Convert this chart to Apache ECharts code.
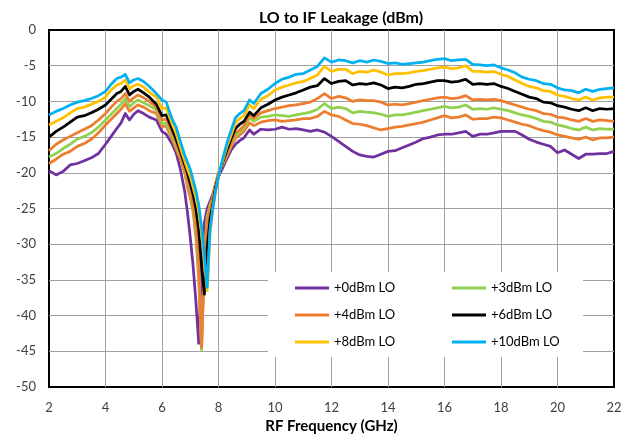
<!DOCTYPE html>
<html><head><meta charset="utf-8">
<script src="https://cdn.jsdelivr.net/npm/echarts@6/dist/echarts.min.js"></script>
<style>html,body{margin:0;padding:0;background:#fff}#c{width:633px;height:440px}</style>
</head><body><div id="c"></div>
<script>
// RF frequency (GHz)
const freq = [2,2.25,2.5,2.75,3,3.25,3.5,3.75,4,
  4.2,4.4,4.55,4.7,4.85,5,5.15,5.35,5.55,5.8,6,6.15,6.35,6.5,6.65,
  6.8,6.9,7,7.1,7.2,7.3,7.4,7.5,7.6,7.7,7.8,7.9,8,
  8.15,8.3,8.45,8.6,8.75,8.9,9.1,9.25,9.5,9.75,10,
  10.25,10.5,10.75,11,11.25,11.5,11.75,12,12.25,12.5,12.75,13,13.25,13.5,13.75,14,
  14.25,14.5,14.75,15,15.25,15.5,15.75,16,16.25,16.5,16.75,17,17.25,17.5,17.75,18,
  18.25,18.5,18.75,19,19.25,19.5,19.75,20,20.25,20.5,20.75,21,21.25,21.5,21.75,22];

const lo10 = [-11.9,-11.4,-11.0,-10.5,-10.1,-9.9,-9.6,-9.2,-8.6,
  -7.6,-6.8,-6.6,-6.2,-7.4,-7.0,-6.8,-7.2,-7.9,-8.9,-9.8,-10.1,-12.4,-13.6,-15.6,
  -17.5,-18.5,-19.5,-21.0,-22.5,-24.5,-27.5,-31.5,-36.0,-28.0,-25.0,-22.5,-20.5,
  -18.0,-15.8,-14.0,-12.3,-11.7,-11.3,-9.8,-10.3,-8.9,-8.3,-7.5,
  -6.9,-6.6,-6.2,-6.1,-5.6,-5.1,-3.9,-4.5,-4.2,-4.3,-4.6,-4.3,-4.5,-4.2,-4.4,-4.7,
  -4.6,-4.8,-4.7,-4.6,-4.5,-4.3,-4.1,-4.0,-4.3,-4.2,-4.1,-4.8,-4.9,-5.0,-4.9,-5.3,
  -5.6,-6.0,-6.6,-6.9,-7.1,-7.5,-7.6,-8.1,-8.4,-8.5,-8.8,-8.3,-8.6,-8.3,-8.2,-8.1];

const lo8 = [-13.3,-12.8,-12.3,-11.6,-11.0,-10.8,-10.4,-10.0,-9.4,
  -8.4,-7.7,-7.5,-7.0,-8.2,-7.8,-7.6,-8.0,-8.7,-9.4,-11.0,-10.9,-13.1,-14.5,-16.5,
  -18.3,-19.5,-20.5,-22.0,-23.5,-25.5,-28.5,-32.5,-36.5,-28.5,-25.0,-22.5,-20.5,
  -18.3,-16.3,-14.7,-13.0,-12.4,-12.0,-10.5,-11.0,-9.7,-9.2,-8.4,
  -8.0,-7.7,-7.4,-7.2,-6.8,-6.3,-5.1,-5.8,-5.5,-5.5,-6.1,-5.8,-5.9,-5.6,-5.9,-6.3,
  -6.1,-6.1,-6.0,-5.8,-5.7,-5.5,-5.3,-5.2,-5.4,-5.3,-5.0,-5.8,-5.8,-5.9,-5.8,-6.2,
  -6.5,-7.0,-7.5,-7.9,-8.1,-8.5,-8.6,-9.1,-9.3,-9.6,-9.8,-9.4,-9.8,-9.5,-9.4,-9.4];

const lo6 = [-15.0,-14.2,-13.6,-12.9,-12.2,-12.0,-11.6,-11.1,-10.5,
  -9.7,-8.9,-8.6,-7.9,-9.1,-8.6,-8.3,-8.8,-9.4,-10.4,-12.0,-11.9,-13.8,-15.3,-17.0,
  -18.8,-20.0,-21.5,-23.0,-25.0,-28.0,-33.0,-37.0,-30.5,-26.5,-24.5,-22.0,-20.5,
  -18.5,-16.8,-15.2,-13.8,-13.2,-12.8,-11.5,-12.0,-10.9,-10.4,-9.8,
  -9.4,-9.1,-8.8,-8.4,-8.0,-7.8,-6.8,-7.5,-7.2,-7.1,-7.7,-7.5,-7.6,-7.4,-7.7,-8.2,
  -8.0,-8.1,-7.9,-7.6,-7.5,-7.3,-7.1,-7.1,-7.3,-7.2,-6.9,-7.6,-7.5,-7.6,-7.5,-7.9,
  -8.2,-8.6,-9.0,-9.4,-9.6,-10.1,-10.2,-10.6,-10.8,-11.1,-11.3,-10.9,-11.3,-11.0,-11.1,-11.0];

const lo4 = [-16.9,-16.0,-15.4,-14.9,-14.4,-13.9,-13.4,-12.6,-11.7,
  -10.8,-10.0,-9.6,-8.9,-10.0,-9.5,-9.1,-9.5,-10.0,-10.8,-12.6,-12.5,-14.2,-15.8,-17.4,
  -19.3,-21.0,-22.5,-24.5,-27.0,-32.0,-44.5,-32.5,-27.0,-25.0,-23.5,-21.5,-20.0,
  -18.7,-17.2,-15.8,-14.4,-14.0,-13.4,-11.9,-12.4,-11.6,-11.3,-11.0,
  -10.8,-10.6,-10.5,-10.3,-10.1,-9.6,-8.9,-9.6,-9.3,-9.5,-10.0,-9.8,-9.9,-9.9,-10.1,-10.5,
  -10.4,-10.5,-10.3,-10.1,-9.9,-9.7,-9.5,-9.4,-9.6,-9.5,-9.2,-9.8,-9.7,-9.8,-9.7,-9.9,
  -10.2,-10.5,-10.8,-11.1,-11.3,-11.7,-11.8,-12.2,-12.3,-12.6,-12.8,-12.4,-12.8,-12.6,-12.7,-12.8];

const lo3 = [-17.8,-17.3,-16.6,-16.0,-15.3,-14.9,-14.4,-13.6,-12.6,
  -11.8,-11.0,-10.4,-9.6,-10.7,-10.2,-9.8,-10.2,-10.6,-11.2,-13.1,-13.0,-14.7,-16.2,-17.6,
  -19.6,-21.5,-23.0,-25.0,-28.0,-33.5,-44.8,-32.0,-26.5,-24.5,-23.5,-21.5,-20.0,
  -18.8,-17.4,-16.0,-14.8,-14.3,-13.8,-12.3,-12.8,-12.2,-12.1,-11.9,
  -12.0,-12.1,-11.9,-11.7,-11.5,-11.1,-10.3,-11.0,-10.8,-11.0,-11.6,-11.4,-11.5,-11.6,-11.8,-12.1,
  -11.9,-11.9,-11.7,-11.5,-11.3,-11.1,-10.9,-10.7,-10.9,-10.8,-10.5,-11.1,-11.0,-11.1,-10.9,-11.1,
  -11.3,-11.6,-11.9,-12.1,-12.4,-12.8,-12.9,-13.3,-13.5,-13.8,-14.0,-13.6,-14.0,-13.8,-13.9,-13.9];

const lo2 = [-18.7,-18.1,-17.4,-17.0,-16.3,-15.9,-15.3,-14.4,-13.3,
  -12.5,-11.7,-11.1,-10.3,-11.4,-10.9,-10.5,-10.8,-11.3,-11.7,-13.5,-13.5,-15.2,-16.7,-18.1,
  -20.0,-22.0,-23.5,-25.5,-29.0,-35.0,-44.5,-31.5,-26.0,-24.5,-23.5,-21.5,-20.0,
  -18.9,-17.6,-16.3,-15.2,-14.7,-14.2,-13.0,-13.4,-12.9,-12.7,-12.6,
  -12.8,-12.7,-12.6,-12.4,-12.4,-12.1,-11.4,-11.9,-12.1,-12.6,-13.1,-13.2,-13.4,-13.7,-14.0,-13.8,
  -13.6,-13.5,-13.3,-13.1,-12.9,-12.6,-12.3,-12.0,-12.3,-12.2,-11.9,-12.5,-12.4,-12.4,-12.2,-12.3,
  -12.6,-12.9,-13.2,-13.4,-13.8,-14.1,-14.3,-14.7,-14.9,-15.1,-15.3,-15.0,-15.4,-15.1,-15.1,-15.0];

const lo0 = [-19.7,-20.3,-19.8,-18.9,-18.7,-18.3,-17.9,-17.3,-16.0,
  -14.9,-13.8,-13.0,-11.7,-12.6,-11.8,-11.3,-11.7,-12.2,-12.6,-14.2,-14.6,-15.9,-17.2,-19.5,
  -22.5,-25.5,-29.0,-33.0,-38.0,-43.9,-33.0,-27.0,-25.0,-24.0,-23.0,-21.5,-20.5,
  -19.3,-18.0,-16.8,-16.0,-15.5,-15.1,-14.0,-14.6,-13.9,-14.0,-13.9,
  -13.6,-13.9,-13.8,-14.0,-14.2,-14.0,-14.3,-14.9,-15.6,-16.3,-17.0,-17.5,-17.7,-17.8,-17.4,-17.0,
  -16.9,-16.5,-16.1,-15.7,-15.2,-15.0,-14.7,-14.6,-14.6,-14.4,-14.2,-14.9,-14.6,-14.6,-14.4,-14.2,
  -14.2,-14.2,-14.7,-15.3,-15.7,-16.0,-16.3,-17.2,-16.8,-17.4,-18.0,-17.4,-17.4,-17.3,-17.3,-17.0];

const seriesNames = ['+0dBm LO','+2dBm LO','+3dBm LO','+4dBm LO','+6dBm LO','+8dBm LO','+10dBm LO'];
const seriesData = [lo0, lo2, lo3, lo4, lo6, lo8, lo10];
const seriesColors = ['#7030A0','#ED7D31','#92D050','#ED7D31','#000000','#FFC000','#00B0F0'];
const legendCol1 = ['+0dBm LO','+4dBm LO','+8dBm LO'];
const legendCol2 = ['+3dBm LO','+6dBm LO','+10dBm LO'];
const xTicks = {min: 2, max: 22, interval: 2};
const yTicks = {min: -50, max: 0, interval: 5};

const F = 'Lato, "Liberation Sans", sans-serif';
const chart = echarts.init(document.getElementById('c'), null, {renderer: 'canvas'});

const series = seriesNames.map((n, k) => ({
  name: n, type: 'line', symbol: 'none', showSymbol: false,
  data: freq.map((f, i) => [f, seriesData[k][i]]),
  lineStyle: {color: seriesColors[k], width: 2.75, join: 'round'},
  itemStyle: {color: seriesColors[k]},
  emphasis: {disabled: true}, z: 2 + k * 0.01
}));

const legendBase = {
  orient: 'vertical', top: 280, itemWidth: 34, itemHeight: 3, icon: 'rect',
  itemGap: 11, padding: 0, selectedMode: false,
  textStyle: {fontFamily: F, fontSize: 13, color: '#000', lineHeight: 16}
};

chart.setOption({
  animation: false,
  backgroundColor: '#fff',
  title: {
    text: 'LO to IF Leakage (dBm)', left: 336, top: 5, textAlign: 'center',
    textStyle: {fontFamily: F, fontWeight: 'bold', fontSize: 16, color: '#000'}
  },
  grid: {left: 49, right: 19, top: 30, bottom: 53, show: true, borderColor: '#000', borderWidth: 2, containLabel: false},
  xAxis: {
    type: 'value', min: xTicks.min, max: xTicks.max, interval: xTicks.interval,
    axisLine: {show: false}, axisTick: {show: false},
    splitLine: {show: true, showMinLine: false, showMaxLine: false, lineStyle: {color: '#a0a0a0', width: 1}},
    axisLabel: {margin: 14, fontFamily: F, fontSize: 13, color: '#404040'},
    name: 'RF Frequency (GHz)', nameLocation: 'middle', nameGap: 31,
    nameTextStyle: {fontFamily: F, fontWeight: 'bold', fontSize: 15, color: '#000'}
  },
  yAxis: {
    type: 'value', min: yTicks.min, max: yTicks.max, interval: yTicks.interval,
    axisLine: {show: false}, axisTick: {show: false},
    splitLine: {show: true, showMinLine: false, showMaxLine: false, lineStyle: {color: '#a0a0a0', width: 1}},
    axisLabel: {margin: 13, fontFamily: F, fontSize: 13, color: '#404040'}
  },
  graphic: [{type: 'rect', left: 268, top: 272, z: 3, shape: {width: 315, height: 85}, style: {fill: '#fff'}}],
  legend: [
    Object.assign({}, legendBase, {left: 295, data: legendCol1}),
    Object.assign({}, legendBase, {left: 452, data: legendCol2})
  ],
  series: series
});
</script>
</body></html>
